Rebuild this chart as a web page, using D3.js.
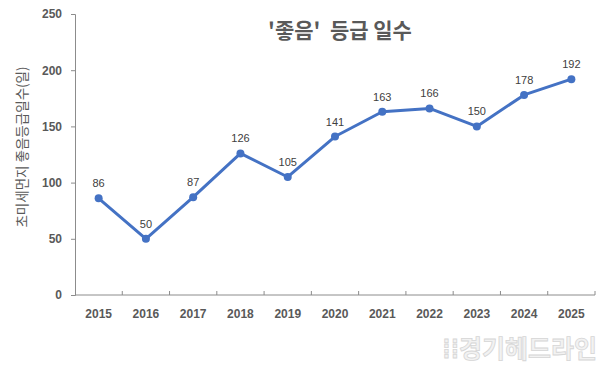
<!DOCTYPE html>
<html>
<head>
<meta charset="utf-8">
<script src="https://cdn.jsdelivr.net/npm/d3@7"></script>
<style>
  body { margin: 0; background: #fff; }
  svg { display: block; }
  text { font-family: "Liberation Sans", Arial, "Noto Sans CJK KR", sans-serif; }
</style>
</head>
<body>
<svg id="chart" width="607" height="372"></svg>
<script>
// data
var years = ["2015","2016","2017","2018","2019","2020","2021","2022","2023","2024","2025"];
var goodDays = [86, 50, 87, 126, 105, 141, 163, 166, 150, 178, 192];
var yTicks = [0, 50, 100, 150, 200, 250];

var titleText = "'좋음'  등급 일수";
var yTitle = "초미세먼지 좋음등급일수(일)";

var svg = d3.select("svg#chart");
var textColor = "#595959";

var x = d3.scaleBand().domain(years).range([75, 595]);
var cx = function(d){ return x(d) + x.bandwidth() / 2; };
var y = d3.scaleLinear().domain([0, 250]).range([295, 14]);

// y axis
var yAxis = svg.append("g")
    .attr("transform", "translate(75,0)")
    .call(d3.axisLeft(y).tickValues(yTicks).tickSize(4).tickPadding(9));
yAxis.select(".domain").attr("stroke", "#8c8c8c");
yAxis.selectAll(".tick line").attr("stroke", "#8c8c8c");
yAxis.selectAll(".tick text")
    .attr("fill", textColor)
    .style("font-size", "12px")
    .style("font-weight", "bold");

// x axis: tick marks on band edges
var edges = years.map(function(d){ return x(d); }).concat([x.range()[1]]);
var xAxis = svg.append("g").attr("class", "xaxis");
xAxis.append("line")
    .attr("x1", x.range()[0]).attr("x2", x.range()[1])
    .attr("y1", y(0)).attr("y2", y(0))
    .attr("stroke", "#8c8c8c");
xAxis.selectAll("line.tk")
    .data(edges.slice(1))
    .enter()
    .append("line")
    .attr("class", "tk")
    .attr("x1", function(d){ return d; })
    .attr("x2", function(d){ return d; })
    .attr("y1", y(0)).attr("y2", y(0) - 4)
    .attr("stroke", "#8c8c8c");
xAxis.selectAll("text")
    .data(years)
    .enter()
    .append("text")
    .attr("x", cx)
    .attr("y", 318)
    .attr("text-anchor", "middle")
    .attr("fill", textColor)
    .style("font-size", "12px")
    .style("font-weight", "bold")
    .text(function(d){ return d; });

// line
var pts = years.map(function(d, i){ return {year: d, v: goodDays[i]}; });
var line = d3.line()
    .x(function(d){ return cx(d.year); })
    .y(function(d){ return y(d.v); });

svg.append("path")
    .datum(pts)
    .attr("d", line)
    .attr("fill", "none")
    .attr("stroke", "#4472c4")
    .attr("stroke-width", 3)
    .attr("stroke-linejoin", "round");

svg.selectAll("circle.pt")
    .data(pts)
    .enter()
    .append("circle")
    .attr("class", "pt")
    .attr("cx", function(d){ return cx(d.year); })
    .attr("cy", function(d){ return y(d.v); })
    .attr("r", 4)
    .attr("fill", "#4472c4");

svg.selectAll("text.lbl")
    .data(pts)
    .enter()
    .append("text")
    .attr("class", "lbl")
    .attr("x", function(d){ return cx(d.year); })
    .attr("y", function(d){ return y(d.v) - 11; })
    .attr("text-anchor", "middle")
    .attr("fill", "#404040")
    .style("font-size", "11px")
    .text(function(d){ return d.v; });

// title
svg.append("text")
    .attr("x", 340)
    .attr("y", 38)
    .attr("text-anchor", "middle")
    .attr("fill", textColor)
    .style("font-family", "'Noto Sans CJK KR', sans-serif")
    .style("font-size", "21px")
    .style("font-weight", "bold")
    .style("white-space", "pre")
    .text(titleText);

// y title
svg.append("text")
    .attr("transform", "translate(27,147) rotate(-90)")
    .attr("text-anchor", "middle")
    .attr("fill", textColor)
    .style("font-family", "'Noto Sans CJK KR', sans-serif")
    .style("font-size", "13.5px")
    .text(yTitle);

// watermark
svg.append("text")
    .attr("x", 597)
    .attr("y", 358)
    .attr("text-anchor", "end")
    .attr("fill", "#f2f2f2")
    .attr("stroke", "#d6d6d6")
    .attr("stroke-width", 0.8)
    .style("font-family", "'Noto Sans CJK KR', sans-serif")
    .style("font-size", "25px")
    .style("font-weight", "bold")
    .text("⁞⁞경기헤드라인");
</script>
</body>
</html>
